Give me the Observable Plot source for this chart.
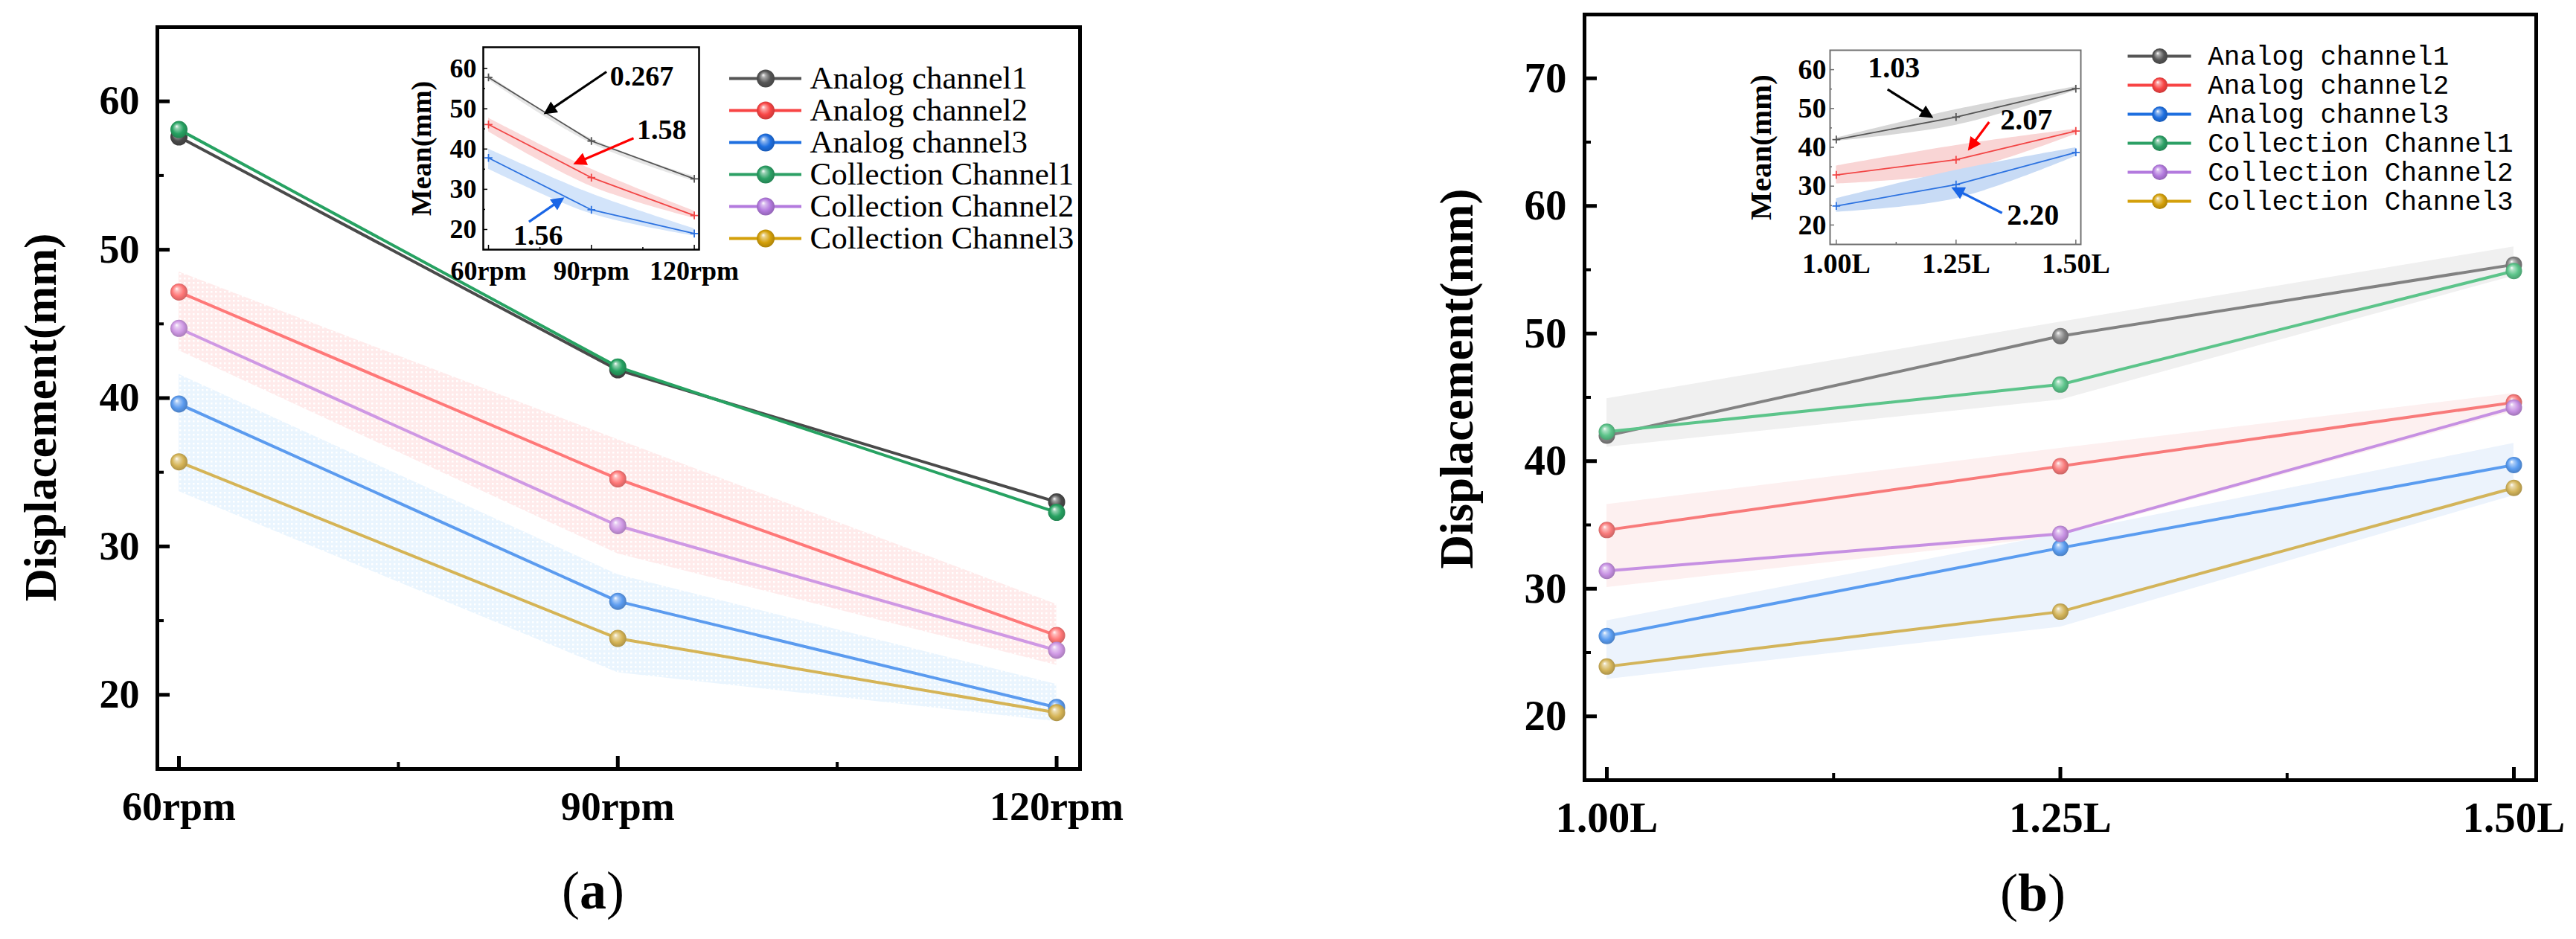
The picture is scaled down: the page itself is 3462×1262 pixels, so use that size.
<!DOCTYPE html>
<html><head><meta charset="utf-8">
<script src="https://cdn.jsdelivr.net/npm/d3@7"></script>
<script src="https://cdn.jsdelivr.net/npm/@observablehq/plot@0.6"></script>
<style>
html,body{margin:0;padding:0;background:#fff;}
#root{position:relative;width:3462px;height:1262px;overflow:hidden;background:#fff;}
.abs{position:absolute;}
.cap{position:absolute;font-family:"Liberation Serif","Times New Roman",serif;font-size:72px;line-height:72px;color:#000;transform:translateX(-50%);white-space:nowrap;}
</style></head><body><div id="root"></div>
<script>
// ---------------- data ----------------
const series = ["Analog channel1","Analog channel2","Analog channel3","Collection Channel1","Collection Channel2","Collection Channel3"];

// panel (a): speed
const rpmLevels = [60, 90, 120];
const rpmTicks = [60, 90, 120];
const rpmMinor = [75, 105];
const aAnalog1 = [57.6, 41.9, 33.0];
const aAnalog2 = [47.15, 34.55, 24.0];
const aAnalog3 = [39.6, 26.3, 19.15];
const aColl1   = [58.1, 42.1, 32.3];
const aColl2   = [44.7, 31.4, 23.0];
const aColl3   = [35.7, 23.8, 18.8];
const aBand2Lo = [43.2, 29.5, 22.0], aBand2Hi = [48.5, 37.2, 26.1];
const aBand3Lo = [33.7, 21.5, 18.2], aBand3Hi = [41.6, 28.1, 20.7];

// panel (b): volume
const volLevels = [1.00, 1.25, 1.50];
const volTicks = [1.00, 1.25, 1.50];
const volMinor = [1.125, 1.375];
const bAnalog1 = [42.0, 49.8, 55.4];
const bAnalog2 = [34.6, 39.6, 44.6];
const bAnalog3 = [26.3, 33.2, 39.7];
const bColl1   = [42.3, 46.0, 54.9];
const bColl2   = [31.4, 34.3, 44.2];
const bColl3   = [23.9, 28.2, 37.9];
const bBand1Lo = [41.1, 44.8, 54.5], bBand1Hi = [44.9, 50.9, 56.8];
const bBand2Lo = [30.1, 34.1, 43.9], bBand2Hi = [36.6, 41.0, 45.3];
const bBand3Lo = [22.9, 27.0, 37.3], bBand3Hi = [27.5, 34.3, 41.4];

// inset (a): Mean(mm)
const iaMean1 = [57.8, 42.0, 32.6], iaMean2 = [46.1, 32.9, 23.5], iaMean3 = [37.8, 24.9, 19.0];
const iaBand1Lo = [57.2, 41.4, 32.0], iaBand1Hi = [58.4, 42.6, 33.2];
const iaBand2Lo = [44.3, 30.7, 22.8], iaBand2Hi = [47.7, 35.0, 24.6];
const iaBand3Lo = [35.0, 23.9, 18.4], iaBand3Hi = [40.0, 28.9, 20.2];
const iaLabels = ["0.267", "1.58", "1.56"];
const iaLabelX = [104.7, 110.5, 74.5], iaLabelY = [58.1, 44.8, 18.4];
const iaArrowX1 = [94.4, 102.3, 71.8], iaArrowY1 = [59.2, 42.7, 21.9];
const iaArrowX2 = [76.7, 85.4, 81.5], iaArrowY2 = [49.0, 36.5, 27.6];

// inset (b): Mean(mm)
const ibMean1 = [42.0, 47.8, 55.1], ibMean2 = [32.9, 36.8, 44.2], ibMean3 = [24.9, 30.4, 38.7];
const ibBand1Lo = [41.6, 45.7, 54.6], ibBand1Hi = [42.4, 49.7, 55.6];
const ibBand2Lo = [30.6, 33.5, 43.4], ibBand2Hi = [35.2, 40.5, 44.7];
const ibBand3Lo = [23.3, 26.8, 37.7], ibBand3Hi = [26.8, 34.1, 39.9];
const ibLabels = ["1.03", "2.07", "2.20"];
const ibLabelX = [1.120, 1.3965, 1.4105], ibLabelY = [60.4, 47.1, 22.5];
const ibArrowX1 = [1.107, 1.319, 1.346], ibArrowY1 = [54.9, 46.5, 23.1];
const ibArrowX2 = [1.198, 1.278, 1.245], ibArrowY2 = [47.9, 39.7, 29.4];

const yTicksMain = [20, 30, 40, 50, 60];
const yTicksB = [20, 30, 40, 50, 60, 70];
const yMinorA = [25, 35, 45, 55];
const yMinorB = [25, 35, 45, 55, 65];
const insetYTicks = [20, 30, 40, 50, 60];

// ---------------- styles ----------------
const SERIF = "'Liberation Serif','Times New Roman',serif";
const MONO = "'Liberation Mono','DejaVu Sans Mono',monospace";
const colorsA = ["#4a4a4a", "#ff7878", "#5b9bef", "#27a262", "#cf98e4", "#d5b456"];
const colorsB = ["#828282", "#f87a7a", "#5a9cf0", "#5cc48a", "#c690e2", "#d3b45a"];
const legendColors = ["#555555", "#f84444", "#1e6fe0", "#2ca065", "#b37ade", "#d4a00a"];
const insetColors = ["#555555", "#f24545", "#2c72e0"];
const arrowColors = ["#000000", "#ff0000", "#1a66e6"];

// ---------------- defs (gradients, patterns, arrow heads) ----------------
const defs = d3.select("body").append("svg").attr("width", 0).attr("height", 0)
  .style("position", "absolute").style("left", 0).style("top", 0).append("defs");
const gradIds = new Map();
function grad(c) {
  if (!gradIds.has(c)) {
    const id = "sph" + gradIds.size;
    gradIds.set(c, id);
    const g = defs.append("radialGradient").attr("id", id)
      .attr("cx", "0.5").attr("cy", "0.5").attr("r", "0.55").attr("fx", "0.36").attr("fy", "0.3");
    g.append("stop").attr("offset", "0").attr("stop-color", "#ffffff");
    g.append("stop").attr("offset", "0.2").attr("stop-color", d3.interpolateRgb(c, "#ffffff")(0.5));
    g.append("stop").attr("offset", "0.6").attr("stop-color", c);
    g.append("stop").attr("offset", "1").attr("stop-color", d3.color(c).darker(0.7).formatHex());
  }
  return `url(#${gradIds.get(c)})`;
}
function pattern(id, base) {
  const p = defs.append("pattern").attr("id", id).attr("width", 6).attr("height", 6).attr("patternUnits", "userSpaceOnUse");
  p.append("rect").attr("width", 6).attr("height", 6).attr("fill", base);
  p.append("rect").attr("x", 1).attr("y", 1).attr("width", 2.5).attr("height", 2.5).attr("fill", "#ffffff");
  return `url(#${id})`;
}
function arrowHead(c) {
  const id = "ah" + c.replace("#", "");
  if (defs.select("#" + id).empty()) {
    defs.append("marker").attr("id", id).attr("viewBox", "0 0 10 10").attr("refX", 8).attr("refY", 5)
      .attr("markerWidth", 7).attr("markerHeight", 5.5).attr("orient", "auto").attr("markerUnits", "strokeWidth")
      .append("path").attr("d", "M0,0L10,5L0,10Z").attr("fill", c);
  }
  return `url(#${id})`;
}
const patRed = pattern("patRed", "#ffebeb");
const patBlue = pattern("patBlue", "#eaf5fe");

const root = document.getElementById("root");
function place(el, left, top) {
  const d = document.createElement("div");
  d.className = "abs";
  d.style.left = left + "px";
  d.style.top = top + "px";
  d.appendChild(el);
  root.appendChild(d);
  return el;
}
const svgStyle = {background: "transparent", overflow: "visible", color: "black", fontFamily: SERIF};

// ---------------- main panels ----------------
function mainPanel(cfg) {
  const marks = [];
  cfg.bands.forEach(b => marks.push(Plot.areaY(cfg.xs.map((x, j) => ({x, lo: b.lo[j], hi: b.hi[j]})),
    {x: "x", y1: "lo", y2: "hi", fill: b.fill})));
  cfg.values.forEach((vals, i) => {
    const d = cfg.xs.map((x, j) => ({x, y: vals[j]}));
    marks.push(Plot.line(d, {x: "x", y: "y", stroke: cfg.colors[i], strokeWidth: 4}));
    marks.push(Plot.dot(d, {x: "x", y: "y", r: cfg.r, fill: grad(cfg.colors[i])}));
  });
  marks.push(
    Plot.axisY(cfg.yTicks, {anchor: "left", tickSize: -17, tickPadding: cfg.yPad + 17, strokeWidth: 5,
      fontSize: cfg.font, fontWeight: "bold", label: null, tickFormat: d => String(d)}),
    Plot.axisY(cfg.yMinor, {anchor: "left", tickSize: -9, strokeWidth: 4, label: null, tickFormat: () => ""}),
    Plot.axisX(cfg.xTicks, {anchor: "bottom", tickSize: -17, tickPadding: cfg.xPad + 17, strokeWidth: 5,
      fontSize: cfg.font, fontWeight: "bold", label: null, tickFormat: cfg.xFormat}),
    Plot.axisX(cfg.xMinor, {anchor: "bottom", tickSize: -9, strokeWidth: 4, label: null, tickFormat: () => ""}),
    Plot.frame({stroke: "black", strokeWidth: 5}),
    Plot.text(["Displacement(mm)"], {frameAnchor: "left", textAnchor: "middle", lineAnchor: "middle", text: d => d, rotate: -90,
      dx: cfg.labelDx, dy: cfg.labelDy, fontSize: cfg.labelFont, fontWeight: "bold"})
  );
  return Plot.plot({
    width: cfg.width, height: cfg.height,
    marginLeft: cfg.m[0], marginRight: cfg.m[1], marginTop: cfg.m[2], marginBottom: cfg.m[3],
    x: {type: "linear", domain: cfg.xDomain},
    y: {type: "linear", domain: cfg.yDomain},
    style: svgStyle,
    marks
  });
}

function insetPanel(cfg) {
  const marks = [];
  cfg.bands.forEach(b => marks.push(Plot.areaY(cfg.xs.map((x, j) => ({x, lo: b.lo[j], hi: b.hi[j]})),
    {x: "x", y1: "lo", y2: "hi", fill: b.fill, curve: "catmull-rom"})));
  cfg.values.forEach((vals, i) => {
    const d = cfg.xs.map((x, j) => ({x, y: vals[j]}));
    marks.push(Plot.line(d, {x: "x", y: "y", stroke: insetColors[i], strokeWidth: 1.8}));
    marks.push(Plot.dot(d, {x: "x", y: "y", symbol: "plus", r: 3.5, stroke: insetColors[i], strokeWidth: 1.8}));
  });
  marks.push(
    Plot.link(cfg.labels, {x1: cfg.ax1, y1: cfg.ay1, x2: cfg.ax2, y2: cfg.ay2, stroke: (d, i) => arrowColors[i], strokeWidth: 3.2}),
    Plot.text(cfg.labels, {x: cfg.lx, y: cfg.ly, text: d => d, fontSize: cfg.annFont, fontWeight: "bold"}),
    Plot.axisY(insetYTicks, {anchor: "left", tickSize: -6, tickPadding: cfg.yPad + 6, strokeWidth: 1.5, stroke: cfg.frameColor,
      fontSize: cfg.font, fontWeight: "bold", label: null, tickFormat: d => String(d)}),
    Plot.axisY(yMinorA, {anchor: "left", tickSize: -3, strokeWidth: 1.5, stroke: cfg.frameColor, label: null, tickFormat: () => ""}),
    Plot.axisX(cfg.xTicks, {anchor: "bottom", tickSize: -6, tickPadding: cfg.xPad + 6, strokeWidth: 1.5, stroke: cfg.frameColor,
      fontSize: cfg.font, fontWeight: "bold", label: null, tickFormat: cfg.xFormat}),
    Plot.axisX(cfg.xMinor, {anchor: "bottom", tickSize: -3, strokeWidth: 1.5, stroke: cfg.frameColor, label: null, tickFormat: () => ""}),
    Plot.frame({stroke: cfg.frameColor, strokeWidth: cfg.frameWidth}),
    Plot.text(["Mean(mm)"], {frameAnchor: "left", textAnchor: "middle", lineAnchor: "middle", text: d => d, rotate: -90,
      dx: cfg.labelDx, fontSize: cfg.labelFont, fontWeight: "bold"})
  );
  const svg = Plot.plot({
    width: cfg.width, height: cfg.height,
    marginLeft: cfg.m[0], marginRight: cfg.m[1], marginTop: cfg.m[2], marginBottom: cfg.m[3],
    x: {type: "linear", domain: cfg.xDomain},
    y: {type: "linear", domain: cfg.yDomain},
    color: {type: "identity"},
    style: svgStyle,
    marks
  });
  svg.querySelectorAll('g[aria-label="link"] path').forEach(p => {
    const c = p.getAttribute("stroke") || p.parentNode.getAttribute("stroke");
    p.setAttribute("marker-end", arrowHead(c));
  });
  return svg;
}

function legendPanel(cfg) {
  const marks = series.flatMap((s, i) => [
    Plot.ruleY([s], {y: d => d, x1: 0, x2: 1, stroke: legendColors[i], strokeWidth: 4}),
    Plot.dot([s], {x: 0.5, y: d => d, r: cfg.r, fill: grad(legendColors[i])}),
    Plot.text([s], {x: 1, y: d => d, text: d => d, textAnchor: "start", dx: cfg.dx, fontSize: cfg.font,
      fontFamily: cfg.family, fill: "black"})
  ]);
  return Plot.plot({
    width: cfg.width, height: cfg.height, margin: 0,
    x: {type: "linear", domain: [0, 1], range: cfg.xRange, axis: null},
    y: {type: "point", domain: series, range: cfg.yRange, axis: null},
    style: svgStyle,
    marks
  });
}

// panel a
place(mainPanel({
  width: 1731, height: 1262, m: [211, 280, 36, 229],
  xs: rpmLevels, xDomain: [58.525, 121.6], yDomain: [15, 65],
  values: [aAnalog1, aAnalog2, aAnalog3, aColl1, aColl2, aColl3],
  colors: colorsA, r: 11.5,
  bands: [{lo: aBand2Lo, hi: aBand2Hi, fill: patRed}, {lo: aBand3Lo, hi: aBand3Hi, fill: patBlue}],
  yTicks: yTicksMain, yMinor: yMinorA, xTicks: rpmTicks, xMinor: rpmMinor,
  xFormat: d => d + "rpm", font: 54, yPad: 24, xPad: 30,
  labelDx: -156, labelDy: 26, labelFont: 61
}), 0, 0);

// panel b
place(mainPanel({
  width: 1731, height: 1262, m: [398, 54, 19, 214],
  xs: volLevels, xDomain: [0.9877, 1.5123], yDomain: [15, 75],
  values: [bAnalog1, bAnalog2, bAnalog3, bColl1, bColl2, bColl3],
  colors: colorsB, r: 11,
  bands: [{lo: bBand1Lo, hi: bBand1Hi, fill: "#f0f0f0"}, {lo: bBand2Lo, hi: bBand2Hi, fill: "#fdf0f0"}, {lo: bBand3Lo, hi: bBand3Hi, fill: "#ecf3fc"}],
  yTicks: yTicksB, yMinor: yMinorB, xTicks: volTicks, xMinor: volMinor,
  xFormat: d => d.toFixed(2) + "L", font: 57, yPad: 24, xPad: 29,
  labelDx: -171, labelDy: -25, labelFont: 63
}), 1731, 0);

// inset a
place(insetPanel({
  width: 469, height: 332, m: [129, 50, 10, 50],
  xs: rpmLevels, xDomain: [58.48, 121.39], yDomain: [15, 65.3],
  values: [iaMean1, iaMean2, iaMean3],
  bands: [{lo: iaBand1Lo, hi: iaBand1Hi, fill: "#e6e6e6"}, {lo: iaBand2Lo, hi: iaBand2Hi, fill: "#fbd8d8"}, {lo: iaBand3Lo, hi: iaBand3Hi, fill: "#d3e4fa"}],
  labels: iaLabels, lx: iaLabelX, ly: iaLabelY, ax1: iaArrowX1, ay1: iaArrowY1, ax2: iaArrowX2, ay2: iaArrowY2,
  xTicks: rpmTicks, xMinor: rpmMinor, xFormat: d => d + "rpm",
  font: 36, yPad: 9, xPad: 15, annFont: 38, frameColor: "#000000", frameWidth: 2.5,
  labelDx: -83, labelFont: 38
}), 520, 53);

// inset b
place(insetPanel({
  width: 536, height: 323, m: [139, 60, 12, 50],
  xs: volLevels, xDomain: [0.987, 1.5104], yDomain: [15, 65],
  values: [ibMean1, ibMean2, ibMean3],
  bands: [{lo: ibBand1Lo, hi: ibBand1Hi, fill: "#d7d7d7"}, {lo: ibBand2Lo, hi: ibBand2Hi, fill: "#f9d5d5"}, {lo: ibBand3Lo, hi: ibBand3Hi, fill: "#c8dbf5"}],
  labels: ibLabels, lx: ibLabelX, ly: ibLabelY, ax1: ibArrowX1, ay1: ibArrowY1, ax2: ibArrowX2, ay2: ibArrowY2,
  xTicks: volTicks, xMinor: volMinor, xFormat: d => d.toFixed(2) + "L",
  font: 38, yPad: 5, xPad: 12, annFont: 40, frameColor: "#707070", frameWidth: 2,
  labelDx: -93, labelFont: 41
}), 2320, 55);

// legends
place(legendPanel({width: 460, height: 340, xRange: [20, 117], yRange: [42, 303], r: 12, dx: 11, font: 43, family: SERIF}), 960, 40);
place(legendPanel({width: 620, height: 320, xRange: [19.5, 104.7], yRange: [35, 269], r: 10.5, dx: 22, font: 36, family: MONO}), 2840, 20);

// captions
function caption(letter, cx, top) {
  const d = document.createElement("div");
  d.className = "cap";
  d.style.left = cx + "px";
  d.style.top = top + "px";
  d.innerHTML = "(<b>" + letter + "</b>)";
  root.appendChild(d);
}
caption("a", 797, 1161);
caption("b", 2732, 1164);
</script>
</body></html>
